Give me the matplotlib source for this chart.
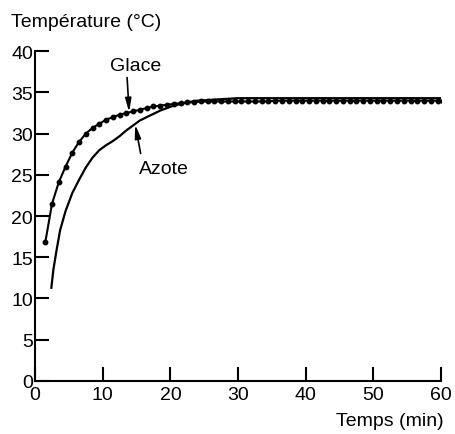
import matplotlib.pyplot as plt

plt.rcParams['font.family'] = ['Liberation Sans', 'DejaVu Sans']

# Glace (points)
t_glace = [1.5, 2.5, 3.5, 4.5, 5.5, 6.5, 7.5, 8.5, 9.5, 10.5, 11.5, 12.5, 13.5,
           14.5, 15.5, 16.5, 17.5, 18.5, 19.5, 20.5, 21.5, 22.5, 23.5, 24.5,
           25.5, 26.5, 27.5, 28.5, 29.5, 30.5, 31.5, 32.5, 33.5, 34.5, 35.5,
           36.5, 37.5, 38.5, 39.5, 40.5, 41.5, 42.5, 43.5, 44.5, 45.5, 46.5,
           47.5, 48.5, 49.5, 50.5, 51.5, 52.5, 53.5, 54.5, 55.5, 56.5, 57.5,
           58.5, 59.5, 60.3]
temp_glace = [16.8, 21.5, 24.1, 26.0, 27.7, 29.0, 30.0, 30.7, 31.2, 31.7, 32.0,
              32.3, 32.5, 32.7, 32.9, 33.1, 33.3, 33.4, 33.5, 33.6, 33.7, 33.8,
              33.8, 33.9, 33.9, 33.9, 33.9, 33.9, 33.9, 33.9, 33.9, 33.9, 33.9,
              33.9, 34.0, 34.0, 34.0, 34.0, 34.0, 34.0, 34.0, 34.0, 34.0, 34.0,
              34.0, 34.0, 34.0, 34.0, 34.0, 34.0, 34.0, 34.0, 34.0, 34.0, 34.0,
              34.0, 34.0, 34.0, 34.0, 34.0]

# Azote (ligne continue)
t_azote = [2.4, 2.7, 3.2, 3.7, 4.5, 5.5, 6.5, 7.5, 8.5, 9.5, 10.5, 11.5, 12.5,
           13.5, 14.5, 15.5, 16.5, 17.5, 18.5, 19.5, 20.5, 21.5, 22.5, 24, 26,
           28, 30, 33, 40, 50, 60.3]
temp_azote = [11.3, 13.5, 16.0, 18.3, 20.6, 22.8, 24.4, 25.9, 27.1, 28.0, 28.6,
              29.1, 29.7, 30.4, 31.0, 31.6, 32.0, 32.4, 32.8, 33.1, 33.4, 33.6,
              33.8, 34.0, 34.1, 34.2, 34.3, 34.3, 34.3, 34.3, 34.3]

fig = plt.figure(figsize=(4.56, 4.35), dpi=100)
ax = fig.add_axes([0.077, 0.122, 0.89, 0.758])

ax.plot(t_glace, temp_glace, color='black', lw=1.5, marker='o', markersize=3.2)
ax.plot(t_azote, temp_azote, color='black', lw=1.6)

ax.set_xlim(0, 60)
ax.set_ylim(0, 40)
ax.set_xticks(range(0, 61, 10))
ax.set_yticks(range(0, 41, 5))

ax.spines['top'].set_visible(False)
ax.spines['right'].set_visible(False)
ax.spines['left'].set_linewidth(1.5)
ax.spines['bottom'].set_linewidth(1.5)
ax.tick_params(axis='both', direction='in', length=10, width=1.5, labelsize=14)
ax.tick_params(axis='y', pad=1.5)
ax.tick_params(axis='x', pad=4)

# Etiquettes et flèches
arrow = dict(arrowstyle='-|>,head_length=0.8,head_width=0.18',
             color='black', lw=1.2, shrinkA=0, shrinkB=0)
ax.text(14.8, 38.3, 'Glace', fontsize=14, ha='center', va='center')
ax.annotate('', xy=(13.9, 32.6), xytext=(13.6, 36.8), arrowprops=arrow)
ax.text(19.0, 25.8, 'Azote', fontsize=14, ha='center', va='center')
ax.annotate('', xy=(14.8, 31.1), xytext=(15.6, 27.6), arrowprops=arrow)

fig.text(0.024, 0.948, 'Température (°C)', fontsize=14, ha='left', va='center')
fig.text(0.973, 0.030, 'Temps (min)', fontsize=14, ha='right', va='center')

fig.savefig('out.png', dpi=100)
